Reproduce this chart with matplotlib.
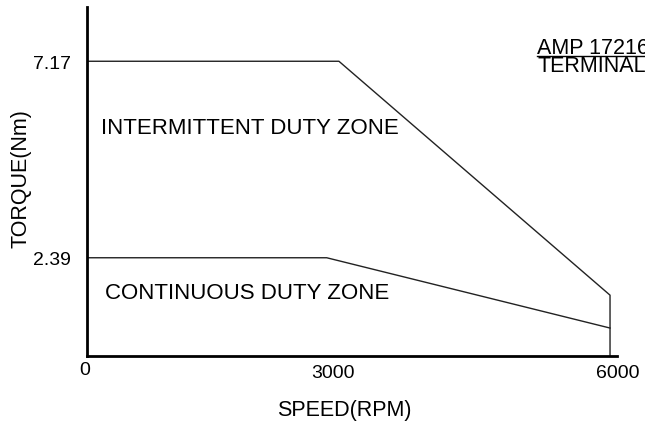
import matplotlib
matplotlib.use("Agg")
import matplotlib.pyplot as plt
import matplotlib.transforms as mtransforms

plt.rcParams['font.family'] = ['Liberation Sans', 'DejaVu Sans']

# Data
intermittent_speed = [0, 2890, 6000, 6000]
intermittent_torque = [7.17, 7.17, 1.48, 0.0]
continuous_speed = [0, 2750, 6000]
continuous_torque = [2.39, 2.39, 0.68]
x_ticks = [0, 3000, 6000]
x_tick_labels = ["0", "3000", "6000"]
y_ticks = [2.39, 7.17]
y_tick_labels = ["2.39", "7.17"]

fig = plt.figure(figsize=(6.45, 4.27), dpi=100)
ax = fig.add_axes([87/645, (427-357)/427, (617-87)/645, (357-8)/427])

ax.plot(intermittent_speed, intermittent_torque, color='#222222', lw=1.0)
ax.plot(continuous_speed, continuous_torque, color='#222222', lw=1.0)

ax.set_xlim(0, 6080)
ax.set_ylim(0, 8.49)

for s in ['top', 'right']:
    ax.spines[s].set_visible(False)
for s in ['left', 'bottom']:
    ax.spines[s].set_linewidth(2.0)
    ax.spines[s].set_color('black')

ax.set_xticks(x_ticks)
ax.set_xticklabels(x_tick_labels, fontsize=14)
ax.set_yticks(y_ticks)
ax.set_yticklabels(y_tick_labels, fontsize=14)
ax.tick_params(axis='both', length=0)
ax.tick_params(axis='x', pad=6)
ax.tick_params(axis='y', pad=11.5)

offsets = [(-2, 3), (-16, 0), (8, 0)]
for lbl, (dx, dy) in zip(ax.get_xticklabels(), offsets):
    lbl.set_transform(lbl.get_transform() + mtransforms.ScaledTranslation(dx/100, dy/100, fig.dpi_scale_trans))

fig.text(344/645, 1 - 411/427, "SPEED(RPM)", fontsize=15.5, ha='center', va='center')
fig.text(21/645, 1 - 179/427, "TORQUE(Nm)", fontsize=15.5, ha='center', va='center', rotation=90)

fig.text(101/645, 1 - 128/427, "INTERMITTENT DUTY ZONE", fontsize=16, ha='left', va='center')
fig.text(105/645, 1 - 294/427, "CONTINUOUS DUTY ZONE", fontsize=16, ha='left', va='center')

fig.text(537/645, 1 - 48/427, "AMP 17216", fontsize=15.5, ha='left', va='center')
fig.add_artist(plt.Line2D([537/645, 1.0], [1 - 57/427, 1 - 57/427], color='black', lw=1.0))
fig.text(537/645, 1 - 67/427, "TERMINAL", fontsize=15.5, ha='left', va='center')

fig.savefig("out.png", dpi=100)
